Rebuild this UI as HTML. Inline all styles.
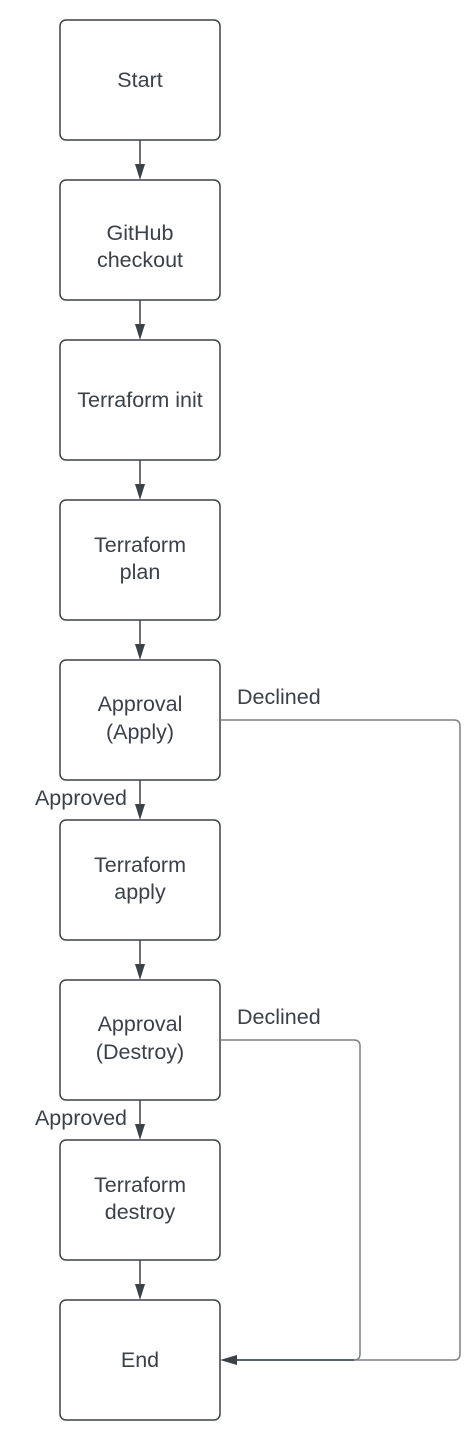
<!DOCTYPE html>
<html><head><meta charset="utf-8"><style>
html,body{margin:0;padding:0;background:#fff;}
svg{display:block;}
text{font-family:"Liberation Sans",Arial,sans-serif;font-size:21.5px;fill:#3a414a;}
</style></head><body>
<svg width="466" height="1440" viewBox="0 0 466 1440" xmlns="http://www.w3.org/2000/svg">
<g fill="#fff" stroke="#3a414a" stroke-width="1.5">
<rect x="60" y="20" width="160" height="120" rx="6"/>
<rect x="60" y="180" width="160" height="120" rx="6"/>
<rect x="60" y="340" width="160" height="120" rx="6"/>
<rect x="60" y="500" width="160" height="120" rx="6"/>
<rect x="60" y="660" width="160" height="120" rx="6"/>
<rect x="60" y="820" width="160" height="120" rx="6"/>
<rect x="60" y="980" width="160" height="120" rx="6"/>
<rect x="60" y="1140" width="160" height="120" rx="6"/>
<rect x="60" y="1300" width="160" height="120" rx="6"/>
</g>
<g stroke="#3a414a" stroke-width="1.5">
<line x1="140" y1="140" x2="140" y2="166"/>
<line x1="140" y1="300" x2="140" y2="326"/>
<line x1="140" y1="460" x2="140" y2="486"/>
<line x1="140" y1="620" x2="140" y2="646"/>
<line x1="140" y1="780" x2="140" y2="806"/>
<line x1="140" y1="940" x2="140" y2="966"/>
<line x1="140" y1="1100" x2="140" y2="1126"/>
<line x1="140" y1="1260" x2="140" y2="1286"/>
</g>
<g fill="#3a414a">
<polygon points="135,164 145,164 140,180"/>
<polygon points="135,324 145,324 140,340"/>
<polygon points="135,484 145,484 140,500"/>
<polygon points="135,644 145,644 140,660"/>
<polygon points="135,804 145,804 140,820"/>
<polygon points="135,964 145,964 140,980"/>
<polygon points="135,1124 145,1124 140,1140"/>
<polygon points="135,1284 145,1284 140,1300"/>
<polygon points="220,1360 237,1355 237,1365"/>
</g>
<g fill="none" stroke="#7c8188" stroke-width="1.5">
<path d="M220 720 H454 Q460 720 460 726 V1354 Q460 1360 454 1360 H236"/>
<path d="M220 1040 H354 Q360 1040 360 1046 V1354 Q360 1360 354 1360"/>
</g>
<line x1="236" y1="1360" x2="354" y2="1360" stroke="#3a414a" stroke-width="1.5"/>
<g text-anchor="middle">
<text x="140" y="87">Start</text>
<text x="140" y="240">GitHub</text>
<text x="140" y="267">checkout</text>
<text x="140" y="407">Terraform init</text>
<text x="140" y="552">Terraform</text>
<text x="140" y="579">plan</text>
<text x="140" y="711">Approval</text>
<text x="140" y="739">(Apply)</text>
<text x="140" y="872">Terraform</text>
<text x="140" y="899">apply</text>
<text x="140" y="1031">Approval</text>
<text x="140" y="1059">(Destroy)</text>
<text x="140" y="1192">Terraform</text>
<text x="140" y="1219">destroy</text>
<text x="140" y="1367">End</text>
</g>
<text x="237" y="704">Declined</text>
<text x="237" y="1024">Declined</text>
<text x="127" y="805" text-anchor="end">Approved</text>
<text x="127" y="1125" text-anchor="end">Approved</text>
</svg>
</body></html>
